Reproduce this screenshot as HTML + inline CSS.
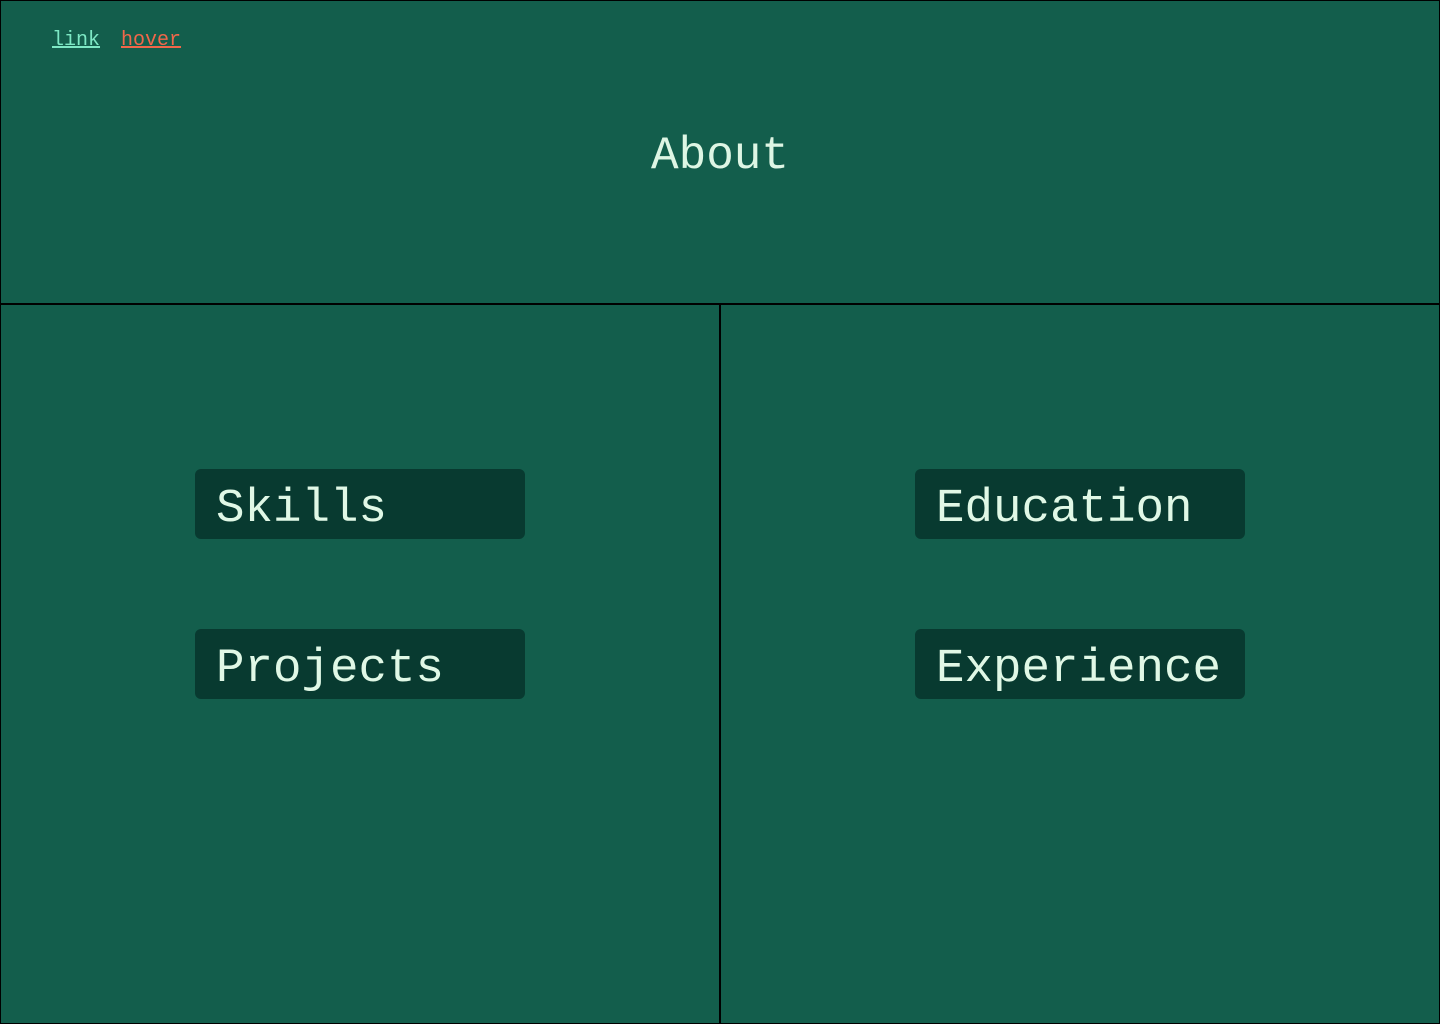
<!DOCTYPE html>
<html><head><meta charset="utf-8"><style>
html,body{margin:0;padding:0;}
body{width:1440px;height:1024px;background:#135e4c;position:relative;overflow:hidden;font-family:"Liberation Mono","DejaVu Sans Mono",monospace;}
.frame{position:absolute;left:0;top:0;width:1438px;height:1022px;border:1px solid #000;}
.h{position:absolute;left:0;top:303px;width:1440px;height:2px;background:#000;}
.v{position:absolute;left:719px;top:304px;width:2px;height:720px;background:#000;}
.nav{position:absolute;top:28px;font-size:20px;line-height:26px;text-decoration:underline;}
.title{position:absolute;left:0;width:1440px;text-align:center;top:126px;font-size:46px;line-height:60px;color:#def6e4;}
.box{position:absolute;width:330px;height:70px;background:#083a30;border-radius:6px;}
.box span{position:absolute;left:21px;top:9px;font-size:47.5px;line-height:62px;color:#e0f8e6;}
</style></head><body>
<div class="frame"></div>
<div class="h"></div><div class="v"></div>
<div class="nav" style="left:52px;color:#7de8c4;">link</div>
<div class="nav" style="left:121px;color:#f0674a;">hover</div>
<div class="title">About</div>
<div class="box" style="left:195px;top:469px;"><span>Skills</span></div>
<div class="box" style="left:195px;top:629px;"><span>Projects</span></div>
<div class="box" style="left:915px;top:469px;"><span>Education</span></div>
<div class="box" style="left:915px;top:629px;"><span>Experience</span></div>
</body></html>
